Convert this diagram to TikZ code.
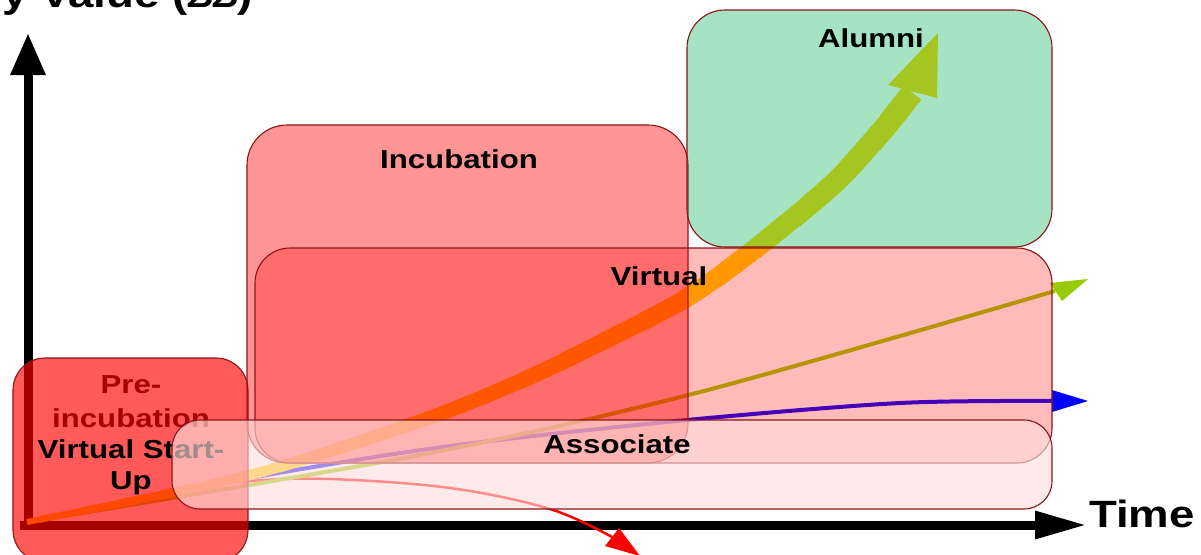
\documentclass[tikz,border=0pt]{standalone}
\usepackage{fontspec}
\setmainfont{Liberation Sans}[FakeStretch=1.2]
\usetikzlibrary{arrows.meta}
\definecolor{boxline}{RGB}{140,20,20}
\definecolor{gold}{RGB}{255,208,0}
\definecolor{ygreen}{RGB}{153,204,0}
\definecolor{alumnigreen}{RGB}{8,178,89}
\definecolor{assocfill}{RGB}{255,222,222}
\begin{document}
\begin{tikzpicture}[x=1pt,y=-1pt,
  phase/.style={draw=boxline, line width=1.1pt, rounded corners=#1},
  lbl/.style={font=\bfseries\fontsize{26}{30}\selectfont, anchor=base, inner sep=0pt},
  biglbl/.style={font=\bfseries\fontsize{38}{44}\selectfont, anchor=base west, inner sep=0pt},
  axis/.style={line width=9pt},
  curve/.style={line width=#1},
]
\useasboundingbox (0,0) rectangle (1201,554);
\clip (0,0) rectangle (1201,554);

% axes
\coordinate (ybot) at (28,529.5);
\coordinate (ytop) at (28,33);
\coordinate (xleft) at (20,525);
\coordinate (xright) at (1087,525);
\draw[axis, -{Triangle[length=42pt,width=33pt]}] (ybot) -- (ytop);
\draw[axis, -{Triangle[length=52pt,width=26pt]}] (xleft) -- (xright);

% red curve
\draw[red, curve=2.5pt] plot[smooth, tension=0.6] coordinates {(27,522) (170,491) (250,481) (330,479) (450,488) (550,509) (612,537)};
\fill[red] (605,546) -- (640,556) -- (619,528) -- cycle;

% blue curve
\draw[blue, curve=4pt] plot[smooth] coordinates {(27,522) (250,478) (450,446) (687,420) (900,403) (1054,401)};
\fill[blue] (1052,390) -- (1088,401) -- (1052,412) -- cycle;

% green curve
\draw[ygreen, curve=4pt] plot[smooth] coordinates {(27,522) (420,455) (700,392) (1055,291)};
\fill[ygreen] (1050,283) -- (1088,279) -- (1062,301) -- cycle;

% thick gold arrow, widening along its length
\foreach \a in {0,40,...,880} {
  \pgfmathsetmacro\w{max(6,6+0.019*(\a-7))}
  \begin{scope}
    \clip (\a,0) rectangle (1201,554);
    \draw[gold, line width=\w pt] plot[smooth] coordinates {(27,522) (250,475) (423,420) (523,380) (600,343) (683,300) (747,255) (830,187) (880,133) (912,93)};
  \end{scope}
}
\fill[gold] (888,85) -- (938,33) -- (937,98) -- cycle;

% phase boxes
\draw[phase=40, fill=red, fill opacity=0.42] (247,125) rectangle (688,463);
\draw[phase=35, fill=red, fill opacity=0.27] (255,248) rectangle (1052,463);
\draw[phase=38, fill=alumnigreen, fill opacity=0.36] (687,10) rectangle (1052,247);

\node[lbl] (pre1) at (131,393) {Pre-};
\node[lbl] (pre2) at (131,427) {incubation};
\draw[phase=32, fill=red, fill opacity=0.65] (13,358) rectangle (248,562);

\node[lbl] (vs1) at (131,458) {Virtual Start-};
\node[lbl] (vs2) at (131,489) {Up};

\draw[phase=28, fill=assocfill, fill opacity=0.63] (172,420) rectangle (1052,509);

% labels
\node[lbl] (incub) at (459,168) {Incubation};
\node[lbl] (virt) at (659,285) {Virtual};
\node[lbl] (alum) at (871,47) {Alumni};
\node[lbl] (assoc) at (617,453) {Associate};

\node[biglbl] (time) at (1089,527) {Time};
\node[biglbl] (ylab) at (2,8) {y Value (££)};
\end{tikzpicture}
\end{document}
